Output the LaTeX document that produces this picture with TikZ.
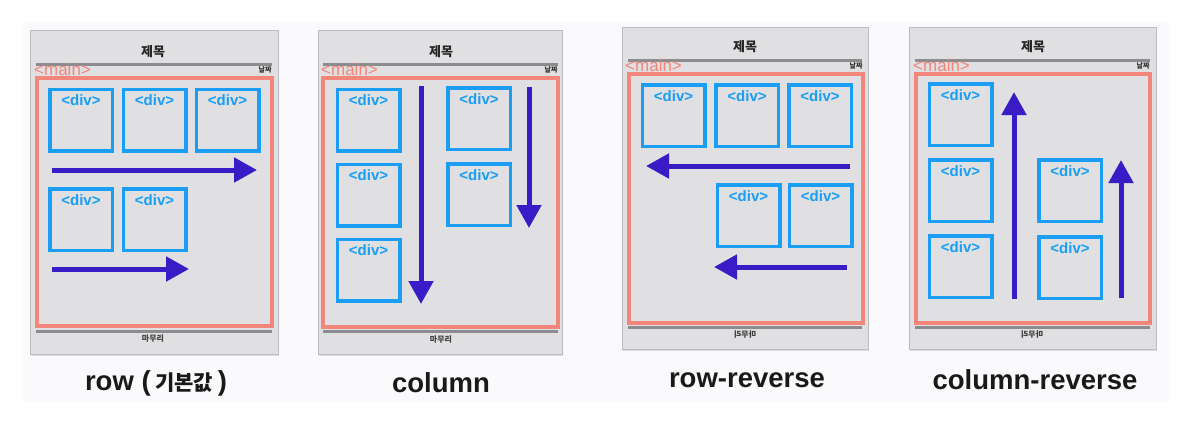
\documentclass[tikz,border=0pt]{standalone}
\usepackage{fontspec}
\setmainfont{Liberation Sans}
\newfontfamily\kr{Noto Sans CJK KR}
\usetikzlibrary{arrows.meta,shadows}
\definecolor{panelfill}{RGB}{224,223,225}
\definecolor{panelborder}{RGB}{188,188,190}
\definecolor{linegray}{RGB}{140,140,142}
\definecolor{mainpink}{RGB}{243,134,122}
\definecolor{divblue}{RGB}{25,158,243}
\definecolor{arrowblue}{RGB}{58,28,198}
\definecolor{bgtint}{RGB}{250,250,252}
\begin{document}
\begin{tikzpicture}[x=1pt,y=-1pt,
  panel/.style={draw=panelborder, line width=0.8pt, fill=panelfill, inner sep=0pt,
    drop shadow={opacity=0.25,shadow xshift=1pt,shadow yshift=-1.5pt}},
  hline/.style={draw=linegray, line width=3pt},
  mainbox/.style={draw=mainpink, line width=3.2pt},
  divlabel/.style={anchor=north, yshift=-7pt, text=divblue, inner sep=0pt,
    font=\bfseries\fontsize{15}{15}\selectfont},
  divbox/.style={draw=divblue, line width=3.5pt, minimum width=62.5pt, minimum height=61.5pt,
    inner sep=0pt, label={[divlabel]north:{<div>}}},
  flow/.style={draw=arrowblue, line width=5pt, -{Triangle[length=23pt,width=24pt]}},
  titlelbl/.style={inner sep=0pt, font=\kr\bfseries\fontsize{13}{13}\selectfont, text=black!85},
  mainlbl/.style={inner sep=0pt, anchor=base west, text=mainpink, font=\fontsize{17}{17}\selectfont},
  datelbl/.style={inner sep=0pt, font=\kr\bfseries\fontsize{7}{7}\selectfont, text=black!80},
  footlbl/.style={inner sep=0pt, font=\kr\bfseries\fontsize{8}{8}\selectfont, text=black!75},
  caption/.style={inner sep=0pt, font=\bfseries\fontsize{27.5}{30}\selectfont, text=black!90},
  krcap/.style={font=\kr\bfseries\fontsize{21}{21}\selectfont}
]
\useasboundingbox (0,0) rectangle (1193,424);
\fill[bgtint] (22,22) rectangle (1170,402);

% ---------------- panel 1: row ----------------
\node[panel, minimum width=248pt, minimum height=324pt] (p1) at (154,192) {};
\node[titlelbl] (p1t) at (153,52) {제목};
\draw[hline] (36,64) -- (272,64);
\node[mainlbl] (p1m) at (34,75.5) {<main>};
\node[datelbl] (p1d) at (265,70) {날짜};
\draw[mainbox] (37,78) rectangle (272,326);
\draw[hline] (36,331) -- (272,331);
\node[footlbl] (p1f) at (153,338) {마무리};
\node[divbox] (p1a) at (81,120) {};
\node[divbox] (p1b) at (154.5,120) {};
\node[divbox] (p1c) at (227.5,120) {};
\node[divbox] (p1d1) at (81,219.5) {};
\node[divbox] (p1e) at (154.5,219.5) {};
\coordinate (p1r1s) at (52,170);
\coordinate (p1r1e) at (257,170);
\coordinate (p1r2s) at (52,269);
\coordinate (p1r2e) at (189,269);
\draw[flow] (p1r1s) -- (p1r1e);
\draw[flow] (p1r2s) -- (p1r2e);
\node[caption] (c1) at (156,383) {row (\,{\kr\bfseries\fontsize{21}{21}\selectfont 기본값}\,)};

% ---------------- panel 2: column ----------------
\node[panel, minimum width=244pt, minimum height=324pt] (p2) at (440,192) {};
\node[titlelbl] (p2t) at (441,52) {제목};
\draw[hline] (323,64) -- (558,64);
\node[mainlbl] (p2m) at (321,75.5) {<main>};
\node[datelbl] (p2d) at (551,70) {날짜};
\draw[mainbox] (323,78) rectangle (558,327);
\draw[hline] (323,331) -- (558,331);
\node[footlbl] (p2f) at (441,339) {마무리};
\node[divbox] (p2a) at (368.5,120) {};
\node[divbox] (p2b) at (368.5,195) {};
\node[divbox] (p2c) at (368.5,270) {};
\node[divbox] (p2d1) at (479,118.5) {};
\node[divbox] (p2e) at (479,194.5) {};
\coordinate (p2c1s) at (421,86);
\coordinate (p2c1e) at (421,304);
\coordinate (p2c2s) at (529,87);
\coordinate (p2c2e) at (529,228);
\draw[flow] (p2c1s) -- (p2c1e);
\draw[flow] (p2c2s) -- (p2c2e);
\node[caption] (c2) at (441,383) {column};

% ---------------- panel 3: row-reverse ----------------
\node[panel, minimum width=246pt, minimum height=322pt] (p3) at (745,188) {};
\node[titlelbl] (p3t) at (745,47) {제목};
\draw[hline] (628,60) -- (862,60);
\node[mainlbl] (p3m) at (625,71.5) {<main>};
\node[datelbl] (p3d) at (856,66) {날짜};
\draw[mainbox] (629,74) rectangle (863,323);
\draw[hline] (628,327) -- (862,327);
\node[footlbl, xscale=-1] (p3f) at (745,334) {마무리};
\node[divbox] (p3a) at (673.5,115.5) {};
\node[divbox] (p3b) at (747,115.5) {};
\node[divbox] (p3c) at (820,115.5) {};
\node[divbox] (p3d1) at (748.5,215.5) {};
\node[divbox] (p3e) at (820.5,215.5) {};
\coordinate (p3r1s) at (850,166);
\coordinate (p3r1e) at (646,166);
\coordinate (p3r2s) at (847,267);
\coordinate (p3r2e) at (714,267);
\draw[flow] (p3r1s) -- (p3r1e);
\draw[flow] (p3r2s) -- (p3r2e);
\node[caption] (c3) at (747,380) {row-reverse};

% ---------------- panel 4: column-reverse ----------------
\node[panel, minimum width=247pt, minimum height=322pt] (p4) at (1032.5,188) {};
\node[titlelbl] (p4t) at (1033,47) {제목};
\draw[hline] (915,60) -- (1150,60);
\node[mainlbl] (p4m) at (913,71.5) {<main>};
\node[datelbl] (p4d) at (1143,66) {날짜};
\draw[mainbox] (916,74) rectangle (1150,323);
\draw[hline] (915,327) -- (1150,327);
\node[footlbl, xscale=-1] (p4f) at (1032,334) {마무리};
\node[divbox] (p4a) at (960.5,114.5) {};
\node[divbox] (p4b) at (960.5,190.5) {};
\node[divbox] (p4c) at (960.5,266.5) {};
\node[divbox] (p4d1) at (1070,190.5) {};
\node[divbox] (p4e) at (1070,267.5) {};
\coordinate (p4c1s) at (1014,299);
\coordinate (p4c1e) at (1014,92);
\coordinate (p4c2s) at (1121,298);
\coordinate (p4c2e) at (1121,160);
\draw[flow] (p4c1s) -- (p4c1e);
\draw[flow] (p4c2s) -- (p4c2e);
\node[caption] (c4) at (1035,380) {column-reverse};
\end{tikzpicture}
\end{document}
